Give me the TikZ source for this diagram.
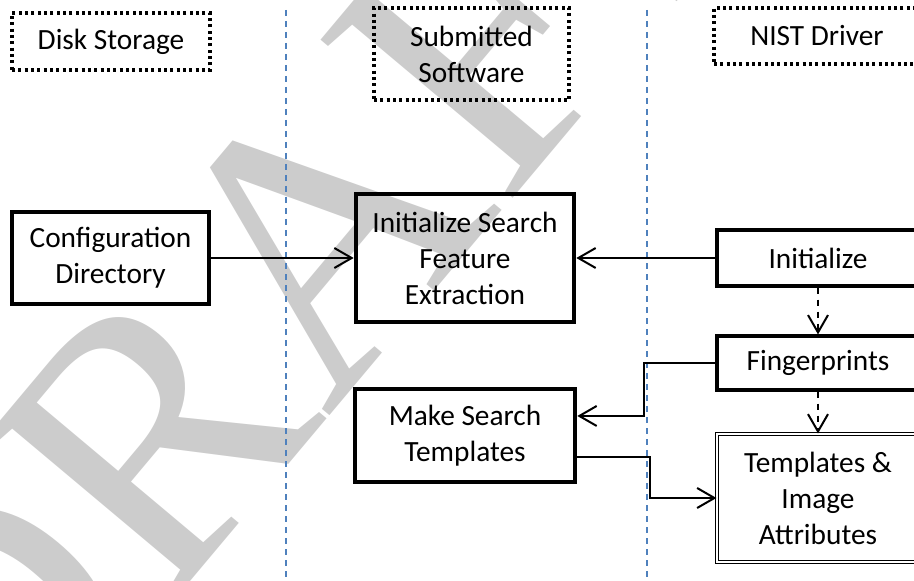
\documentclass[tikz,border=0pt]{standalone}
\usepackage{fontspec}
\setmainfont{Carlito}
\newfontfamily\wmfont{Liberation Serif}
\definecolor{laneblue}{RGB}{79, 129, 189}
\definecolor{wmgray}{RGB}{204, 204, 204}
\usepackage{tikz}
\usetikzlibrary{arrows.meta, calc, positioning}

\begin{document}
\begin{tikzpicture}[x=0.75pt,y=-0.75pt,
	every node/.style={font=\fontsize{22}{27}\selectfont,align=center,inner sep=0pt},
	lanebox/.style={draw,line width=2.5pt,dash pattern=on 2.25pt off 2.5pt},
	procbox/.style={draw,line width=3.5pt},
	plainbox/.style={draw,line width=2.4pt},
	databox/.style={draw,double,double distance=1.6pt,line width=0.8pt},
	conn/.style={line width=1.5pt,-{Straight Barb[length=13pt,width=15pt]}},
	seq/.style={conn,dash pattern=on 5pt off 4pt},
	lane/.style={laneblue,line width=1.1pt,dash pattern=on 4.5pt off 3.75pt}]
			\clip (0,0) rectangle (914,581);
			\useasboundingbox (0,0) rectangle (914,581);
			\node[wmgray,rotate=50,font=\wmfont\fontsize{285}{285}\selectfont] (draft) at (293,265) {DRAFT};
			\draw[lane] (286,10) -- (286,581);
			\draw[lane] (647,10) -- (647,581);
			\node[lanebox,minimum width=148.5pt,minimum height=42.75pt] (disk) at (111,41.5) {Disk Storage};
			\node[lanebox,minimum width=146.25pt,minimum height=69pt] (sub) at (471.5,54) {Submitted\\Software};
			\node[lanebox,minimum width=154.5pt,minimum height=42pt] (nist) at (817,36) {NIST Driver};
			\node[plainbox,minimum width=147.75pt,minimum height=69pt] (cfg) at (110.5,258) {Configuration\\Directory};
			\node[procbox,minimum width=163.5pt,minimum height=96pt] (srch) at (465,258) {Initialize Search\\Feature\\Extraction};
			\node[plainbox,minimum width=151.5pt,minimum height=42pt] (init) at (818,258) {Initialize};
			\node[plainbox,minimum width=151.5pt,minimum height=40.5pt] (fing) at (818,363) {Fingerprints};
			\node[procbox,minimum width=165pt,minimum height=69.75pt] (mst) at (465,435.5) {Make Search\\Templates};
			\node[databox,minimum width=151.5pt,minimum height=96pt] (tmpl) at (818,498) {Templates \&\\Image\\Attributes};
			\draw[conn] (cfg) -- (srch);
			\draw[conn] (init) -- (srch);
			\draw[seq] (init) -- (fing);
			\draw[seq] (fing) -- (tmpl);
			\draw[conn] (fing.west) -- ++(-71,0) |- ($(mst.north east)!0.3!(mst.south east)$);
			\draw[conn] ($(mst.north east)!0.72!(mst.south east)$) -- ++(73,0) |- (tmpl.west);
		\end{tikzpicture}
\end{document}
